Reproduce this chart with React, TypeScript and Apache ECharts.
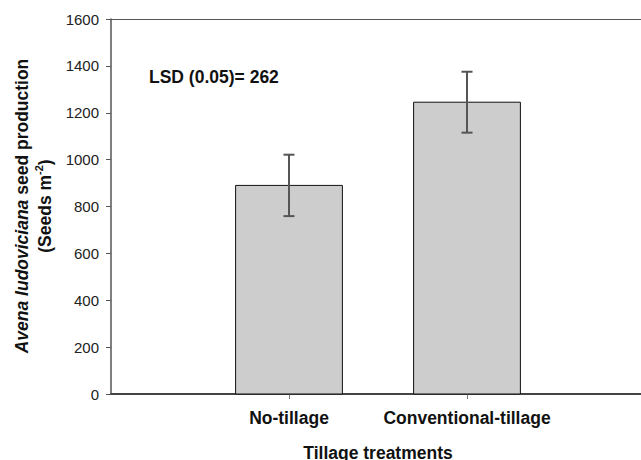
import React, { useEffect, useRef } from "react";
import * as echarts from "echarts";

const categories = ["No-tillage", "Conventional-tillage"];
const positions = [1, 2];
const means = [890, 1245];
const errors = [131, 130];
const yMin = 0;
const yMax = 1600;
const yStep = 200;
const lsdText = "LSD (0.05)= 262";
const xTitle = "Tillage treatments";

const FONT = "'Liberation Sans', Arial, sans-serif";

export default function App() {
  const ref = useRef<HTMLDivElement>(null);
  useEffect(() => {
    if (!ref.current) return;
    const chart = echarts.init(ref.current, null, { renderer: "svg" });
    const barData = positions.map((p, i) => [p, means[i]]);
    const errData = positions.map((p, i) => [p, means[i] - errors[i], means[i] + errors[i]]);
    chart.setOption({
      animation: false,
      backgroundColor: "#ffffff",
      textStyle: { fontFamily: FONT },
      grid: { left: 111, width: 534, top: 19, bottom: 66, containLabel: false, outerBoundsMode: "none" },
      xAxis: [
        {
          type: "value",
          min: 0,
          max: 3,
          interval: 1,
          position: "bottom",
          axisLine: { show: true, lineStyle: { color: "#444", width: 2 } },
          axisTick: { show: true, length: 5, customValues: positions, lineStyle: { color: "#777", width: 1 } },
          axisLabel: {
            customValues: positions,
            margin: 15,
            fontSize: 17.5,
            fontWeight: "bold",
            color: "#111",
            fontFamily: FONT,
            formatter: (v: number) => {
              const idx = positions.indexOf(Math.round(v));
              return idx >= 0 ? categories[idx] : "";
            },
          },
          splitLine: { show: false },
          name: xTitle,
          nameLocation: "middle",
          nameGap: 50,
          nameTextStyle: { fontSize: 17.5, fontWeight: "bold", color: "#111", fontFamily: FONT },
        },
        {
          type: "value",
          min: 0,
          max: 3,
          position: "top",
          axisLine: { show: true, lineStyle: { color: "#555", width: 1 } },
          axisTick: { show: false },
          axisLabel: { show: false },
          splitLine: { show: false },
        },
      ],
      yAxis: {
        type: "value",
        min: yMin,
        max: yMax,
        interval: yStep,
        axisLine: { show: true, lineStyle: { color: "#555", width: 1.5 } },
        axisTick: { show: true, length: 5, lineStyle: { color: "#555", width: 1 } },
        axisLabel: { margin: 12, fontSize: 15, color: "#222", fontFamily: FONT, formatter: (v: number) => String(v) },
        splitLine: { show: false },
      },
      graphic: [
        {
          type: "text",
          x: 149,
          y: 77,
          style: {
            text: lsdText,
            fontSize: 17.5,
            fontWeight: "bold",
            fontFamily: FONT,
            fill: "#111",
            verticalAlign: "middle",
            align: "left",
          },
        },
        {
          type: "text",
          x: 33,
          y: 206,
          rotation: Math.PI / 2,
          style: {
            text: "{i|Avena ludoviciana}{b| seed production}\n{b|(Seeds m}{s|-2}{b|)}",
            align: "center",
            verticalAlign: "middle",
            fontSize: 17.5,
            fontWeight: "bold",
            fontFamily: FONT,
            fill: "#111",
            lineHeight: 23,
            rich: {
              i: { fontSize: 17.5, fontWeight: "bold", fontStyle: "italic", fontFamily: FONT, fill: "#111", lineHeight: 23 },
              b: { fontSize: 17.5, fontWeight: "bold", fontFamily: FONT, fill: "#111", lineHeight: 23 },
              s: { fontSize: 11, fontWeight: "bold", fontFamily: FONT, fill: "#111", lineHeight: 23, verticalAlign: "top" },
            },
          },
        },
      ],
      series: [
        {
          type: "custom",
          xAxisIndex: 0,
          yAxisIndex: 0,
          data: barData,
          z: 2,
          renderItem: (params: any, api: any) => {
            const x = api.value(0);
            const v = api.value(1);
            const p0 = api.coord([x - 0.3, 0]);
            const p1 = api.coord([x + 0.3, v]);
            return {
              type: "rect",
              shape: { x: p0[0], y: p1[1], width: p1[0] - p0[0], height: p0[1] - p1[1] },
              style: { fill: "#cdcdcd", stroke: "#111", lineWidth: 1 },
            };
          },
        },
        {
          type: "custom",
          xAxisIndex: 0,
          yAxisIndex: 0,
          data: errData,
          z: 3,
          renderItem: (params: any, api: any) => {
            const x = api.value(0);
            const lo = api.coord([x, api.value(1)]);
            const hi = api.coord([x, api.value(2)]);
            const cap = 5.5;
            const st = { stroke: "#555", lineWidth: 2 };
            return {
              type: "group",
              children: [
                { type: "line", shape: { x1: lo[0], y1: lo[1], x2: hi[0], y2: hi[1] }, style: st },
                { type: "line", shape: { x1: hi[0] - cap, y1: hi[1], x2: hi[0] + cap, y2: hi[1] }, style: st },
                { type: "line", shape: { x1: lo[0] - cap, y1: lo[1], x2: lo[0] + cap, y2: lo[1] }, style: st },
              ],
            };
          },
        },
      ],
    });
    return () => chart.dispose();
  }, []);
  return <div ref={ref} style={{ width: 641, height: 460, position: "absolute", left: 0, top: 0 }} />;
}
